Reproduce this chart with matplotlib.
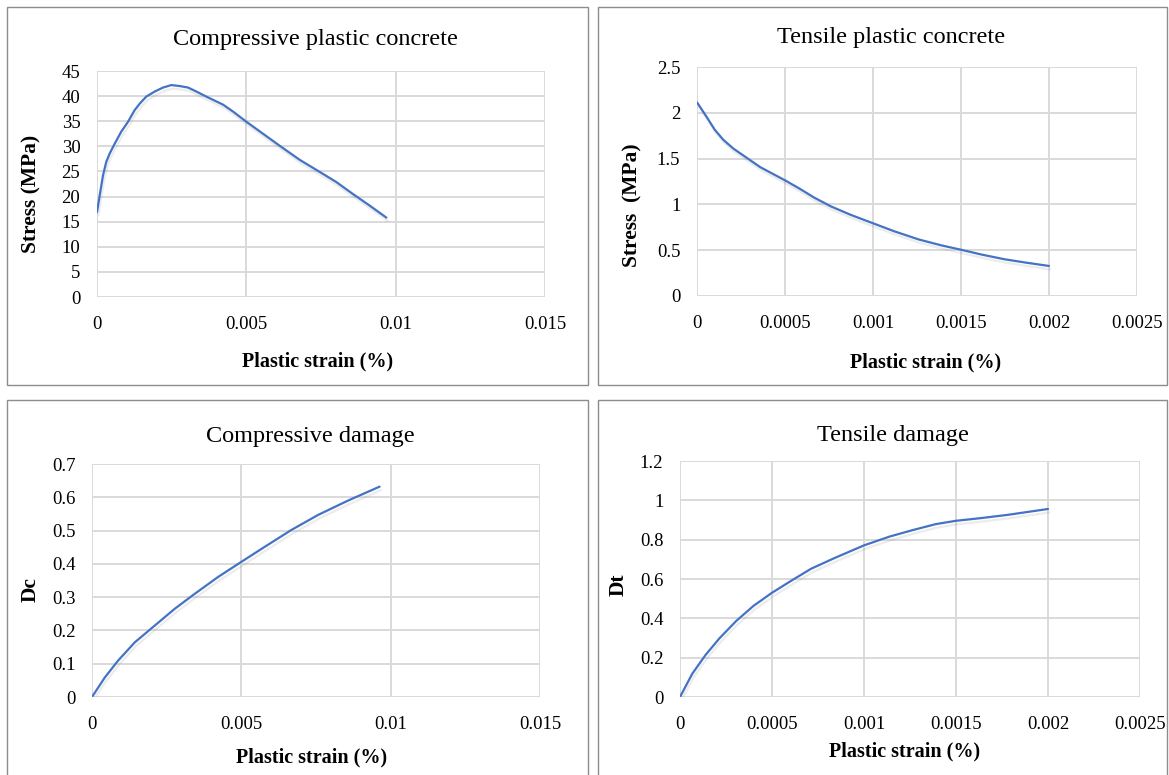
import matplotlib.pyplot as plt
import matplotlib.patheffects as pe
from matplotlib.patches import Rectangle

plt.rcParams['font.family'] = ['Liberation Serif', 'DejaVu Serif']

# compressive plastic concrete: plastic strain vs stress (MPa)
comp_strain = [0, 0.000089, 0.0002, 0.00031, 0.00042, 0.00059, 0.00081, 0.00104, 0.00126,
               0.00143, 0.00165, 0.00193, 0.00221, 0.00249, 0.00277, 0.00305, 0.00333,
               0.00366, 0.00422, 0.00456, 0.005, 0.00556, 0.00612, 0.00679, 0.00757,
               0.00801, 0.00857, 0.00913, 0.00969]
comp_stress = [16.9, 20.2, 24.2, 26.9, 28.5, 30.5, 32.9, 34.9, 37.2,
               38.5, 39.9, 40.9, 41.7, 42.2, 42.0, 41.7, 40.9,
               39.9, 38.3, 36.9, 34.9, 32.5, 30.1, 27.3, 24.5,
               22.9, 20.5, 18.2, 15.8]

# tensile plastic concrete
tens_strain = [0, 0.0000535, 0.000101, 0.000149, 0.000207, 0.000283, 0.000359, 0.000436,
               0.0005, 0.000589, 0.000665, 0.000761, 0.000876, 0.001, 0.00112, 0.00126,
               0.00139, 0.0015, 0.00162, 0.00175, 0.00187, 0.002]
tens_stress = [2.114, 1.959, 1.815, 1.706, 1.609, 1.508, 1.407, 1.328,
               1.263, 1.165, 1.075, 0.978, 0.884, 0.794, 0.707, 0.617,
               0.552, 0.505, 0.451, 0.400, 0.364, 0.328]

# compressive damage
dc_strain = [0, 0.000424, 0.00087, 0.00143, 0.0021, 0.00277, 0.00344, 0.00422,
             0.005, 0.00578, 0.00667, 0.00757, 0.00857, 0.00963]
dc_value = [0, 0.058, 0.109, 0.164, 0.2145, 0.265, 0.310, 0.3605,
            0.406, 0.451, 0.5015, 0.547, 0.590, 0.632]

# tensile damage
dt_strain = [0, 0.0000664, 0.00014, 0.000214, 0.000306, 0.000399, 0.0005, 0.000601,
             0.000712, 0.000841, 0.001, 0.00114, 0.00127, 0.00139, 0.0015, 0.00163,
             0.00178, 0.002]
dt_value = [0, 0.118, 0.215, 0.298, 0.387, 0.463, 0.530, 0.589,
            0.652, 0.707, 0.771, 0.816, 0.850, 0.879, 0.896, 0.909,
            0.926, 0.956]

W, H = 1169, 775
fig = plt.figure(figsize=(W / 100, H / 100), dpi=100)

LINE = '#4472C4'
GRID = '#d9d9d9'


def px_axes(x0, y0, x1, y1):
    return fig.add_axes([x0 / W, 1 - y1 / H, (x1 - x0) / W, (y1 - y0) / H])


def panel(box, axbox, x, y, xmax, xstep, ymax, ystep, xfmt, yfmt,
          title, title_xy, ylabel, ylabel_xy, xlabel_xy):
    bx0, by0, bx1, by1 = box
    fig.patches.append(Rectangle((bx0 / W, 1 - by1 / H), (bx1 - bx0) / W, (by1 - by0) / H,
                                 transform=fig.transFigure, fill=False,
                                 edgecolor='#8c8c8c', linewidth=1.0))
    ax = px_axes(*axbox)
    ax.plot(x, y, color=LINE, linewidth=1.6, solid_capstyle='round', solid_joinstyle='round',
            path_effects=[pe.SimpleLineShadow(offset=(1, -2.5), shadow_color='gray', alpha=0.15),
                          pe.Normal()])
    ax.set_xlim(0, xmax)
    ax.set_ylim(0, ymax)
    nx = int(round(xmax / xstep))
    ny = int(round(ymax / ystep))
    xt = [i * xstep for i in range(nx + 1)]
    yt = [i * ystep for i in range(ny + 1)]
    ax.set_xticks(xt)
    ax.set_xticklabels([xfmt(v) for v in xt])
    ax.set_yticks(yt)
    ax.set_yticklabels([yfmt(v) for v in yt])
    ax.grid(True, color=GRID, linewidth=1.4)
    ax.set_axisbelow(True)
    for s in ax.spines.values():
        s.set_visible(False)
    ax.tick_params(length=0, labelsize=13.5, pad=14)
    ax.tick_params(axis='y', pad=12)
    fig.text(title_xy[0] / W, 1 - title_xy[1] / H, title, fontsize=17.5,
             ha='center', va='center')
    fig.text(ylabel_xy[0] / W, 1 - ylabel_xy[1] / H, ylabel, fontsize=15.5,
             fontweight='bold', rotation=90, ha='center', va='center')
    fig.text(xlabel_xy[0] / W, 1 - xlabel_xy[1] / H, 'Plastic strain (%)', fontsize=14.5,
             fontweight='bold', ha='center', va='center')
    return ax


def fmt_g(v):
    s = f'{v:.4f}'.rstrip('0').rstrip('.')
    return s if s else '0'


def fmt_1(v):
    s = f'{v:.1f}'.rstrip('0').rstrip('.')
    return s if s else '0'


panel((7, 7, 588, 385), (97, 71, 545, 297), comp_strain, comp_stress,
      0.015, 0.005, 45, 5, fmt_g, lambda v: f'{v:g}',
      'Compressive plastic concrete', (315, 40), 'Stress (MPa)', (31, 194), (318, 361))

panel((598, 7, 1167, 385), (697, 67, 1137, 296), tens_strain, tens_stress,
      0.0025, 0.0005, 2.5, 0.5, fmt_g, lambda v: f'{v:g}',
      'Tensile plastic concrete', (891, 37), 'Stress  (MPa)', (632, 205), (926, 362))

panel((7, 400, 588, 780), (92, 464, 540, 697), dc_strain, dc_value,
      0.015, 0.005, 0.7, 0.1, fmt_g, fmt_1,
      'Compressive damage', (310, 436), 'Dc', (31, 589), (312, 757))

panel((598, 400, 1167, 780), (680, 461, 1140, 697), dt_strain, dt_value,
      0.0025, 0.0005, 1.2, 0.2, fmt_g, fmt_1,
      'Tensile damage', (893, 435), 'Dt', (619, 585), (905, 751))

fig.savefig('out.png', dpi=100)
